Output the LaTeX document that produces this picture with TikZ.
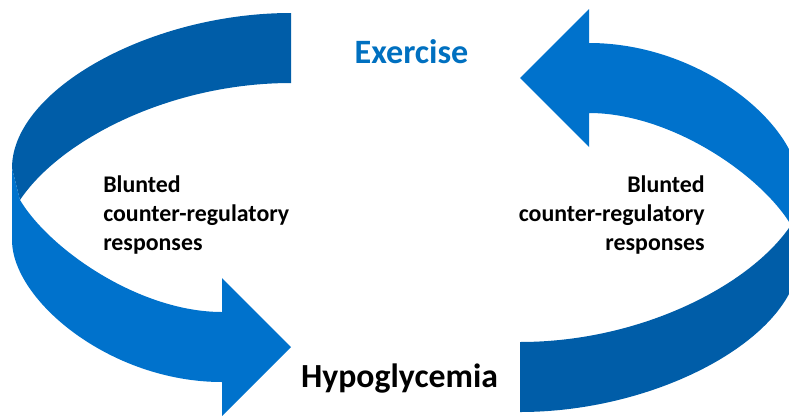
\documentclass[tikz,border=0pt]{standalone}
\usepackage{fontspec}
\setmainfont{Carlito}
\definecolor{loopdark}{HTML}{005DA8}
\definecolor{looplight}{HTML}{0072CC}
\definecolor{exblue}{HTML}{0070C0}
\begin{document}
\begin{tikzpicture}[x=0.75pt,y=-0.75pt,
      sidetext/.style={font=\bfseries\fontsize{17.9}{21.75}\selectfont, inner sep=0pt},
      ]
      \useasboundingbox (0,0) rectangle (789,415);
      \def\Cx{405.5}
      \def\Cy{212.5}
      
      % the two loop arrows, the second one turned half a circle
      \foreach \Turn in {0,180}{
      \begin{scope}[rotate around={\Turn:(\Cx,\Cy)}]
      \coordinate (T1) at (291,13);
      \coordinate (T2) at (291,83);
      \coordinate (F1) at (12,168);
      \coordinate (F2) at (20,200);
      \coordinate (L1) at (12,240);
      \coordinate (S1) at (222,382);
      \coordinate (S2) at (222,312);
      \coordinate (H1) at (222,416);
      \coordinate (H2) at (222,278);
      \coordinate (P) at (291,347);
      
      \fill[loopdark] (T1) .. controls (150,13) and (12,90) .. (F1)
            -- (F2) .. controls (60,140) and (170,83) .. (T2) -- cycle;
      \fill[looplight] (F1) -- (L1) .. controls (12,300) and (110,382) .. (S1)
            -- (H1) -- (P) -- (H2) -- (S2)
            .. controls (140,312) and (50,250) .. (F2) -- cycle;
      \end{scope}
      }
      
      \node[anchor=base, text=exblue, font=\bfseries\fontsize{25.6}{30}\selectfont, inner sep=0pt]
            (exercise) at (411.5,63) {Exercise};
      \node[anchor=base, font=\bfseries\fontsize{25.3}{30}\selectfont, inner sep=0pt]
            (hypo) at (399.5,387) {Hypoglycemia};
      
      \node[sidetext, anchor=north west, align=left] (leftlabel) at (103,175)
            {Blunted\\counter-regulatory\\responses};
      \node[sidetext, anchor=north east, align=right] (rightlabel) at (705,175)
            {Blunted\\counter-regulatory\\responses};
      \end{tikzpicture}
\end{document}
